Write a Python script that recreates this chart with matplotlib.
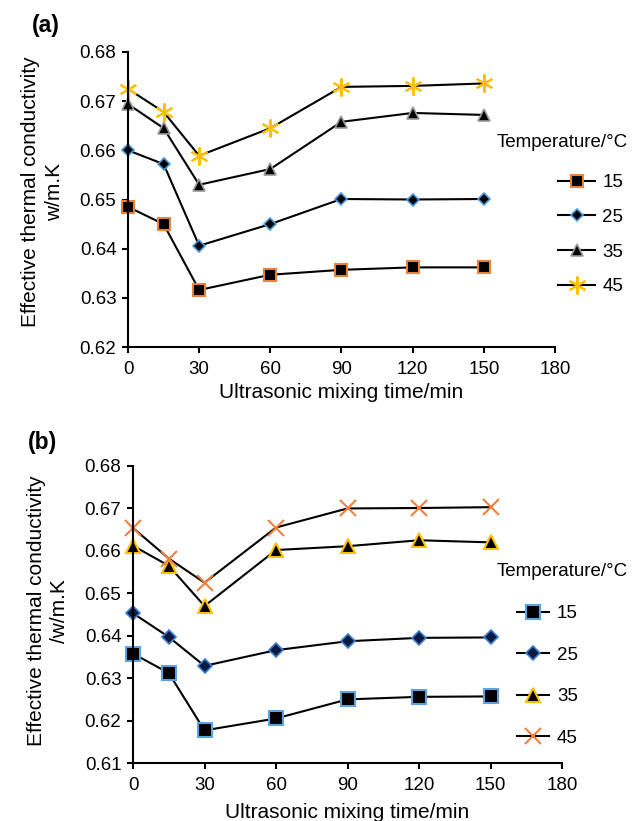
import matplotlib
matplotlib.use("Agg")
import matplotlib.pyplot as plt
from matplotlib.lines import Line2D

plt.rcParams["font.family"] = ["Liberation Sans", "DejaVu Sans"]

# mixing time (min)
time_min = [0, 15, 30, 60, 90, 120, 150]
temps = ["15", "25", "35", "45"]

# (a) effective thermal conductivity, w/m.K
a_15 = [0.6485, 0.6450, 0.6316, 0.6347, 0.6357, 0.6362, 0.6362]
a_25 = [0.6600, 0.6572, 0.6406, 0.6450, 0.6501, 0.6500, 0.6501]
a_35 = [0.6694, 0.6645, 0.6530, 0.6562, 0.6658, 0.6676, 0.6672]
a_45 = [0.6725, 0.6678, 0.6589, 0.6645, 0.6729, 0.6731, 0.6736]

# (b) effective thermal conductivity, w/m.K
b_15 = [0.6358, 0.6312, 0.6177, 0.6205, 0.6250, 0.6256, 0.6257]
b_25 = [0.6453, 0.6397, 0.6329, 0.6366, 0.6387, 0.6395, 0.6396]
b_35 = [0.6612, 0.6565, 0.6470, 0.6602, 0.6611, 0.6625, 0.6620]
b_45 = [0.6654, 0.6582, 0.6525, 0.6655, 0.6700, 0.6701, 0.6703]

font_size = 13.5
label_size = 15
line_width = 1.5
asterisk = (6, 2, 0)

styles_a = [
    dict(marker="s", markersize=9, markerfacecolor="black", markeredgecolor="#E8823A", markeredgewidth=1.5),
    dict(marker="D", markersize=6.5, markerfacecolor="black", markeredgecolor="#4A9BE0", markeredgewidth=1.2),
    dict(marker="^", markersize=9, markerfacecolor="black", markeredgecolor="#9A9A9A", markeredgewidth=1.2),
    dict(marker=asterisk, markersize=13, markerfacecolor="#FFC000", markeredgecolor="#FFC000", markeredgewidth=1.5),
]
styles_b = [
    dict(marker="s", markersize=9.5, markerfacecolor="black", markeredgecolor="#5BA3E0", markeredgewidth=1.5),
    dict(marker="D", markersize=7.5, markerfacecolor="#0D1A40", markeredgecolor="#3A7FD0", markeredgewidth=1.2),
    dict(marker="^", markersize=10.5, markerfacecolor="black", markeredgecolor="#FFC000", markeredgewidth=1.5),
    dict(marker="x", markersize=11, markerfacecolor="#F08040", markeredgecolor="#F08040", markeredgewidth=1.5),
]

fig = plt.figure(figsize=(6.41, 8.21), dpi=100)
ax_a = fig.add_axes([0.1997, 0.5773, 0.6661, 0.3594])
ax_b = fig.add_axes([0.2075, 0.0706, 0.6693, 0.3618])


def draw_panel(ax, series, styles, ylim, yticks, ylabel, xpad, ylab_pos):
    for vals, st, t in zip(series, styles, temps):
        ax.plot(time_min, vals, color="black", linewidth=line_width, label=t, **st)
    ax.set_xlim(0, 180)
    ax.set_ylim(*ylim)
    ax.set_xticks([0, 30, 60, 90, 120, 150, 180])
    ax.set_yticks(yticks)
    ax.set_yticklabels([f"{v:.2f}" for v in yticks])
    for s in ["top", "right"]:
        ax.spines[s].set_visible(False)
    for s in ["left", "bottom"]:
        ax.spines[s].set_linewidth(1.5)
    ax.tick_params(axis="both", direction="out", length=4.3, width=1.5, pad=4, labelsize=font_size)
    ax.tick_params(axis="x", pad=5.5)
    ax.set_xlabel("Ultrasonic mixing time/min", fontsize=label_size, labelpad=xpad)
    ax.set_ylabel(ylabel, fontsize=label_size, multialignment="center", linespacing=1.3)
    ax.yaxis.set_label_coords(*ylab_pos)
    for line in ax.get_lines():
        line.set_clip_on(False)


draw_panel(ax_a, [a_15, a_25, a_35, a_45], styles_a, (0.62, 0.68),
           [0.62, 0.63, 0.64, 0.65, 0.66, 0.67, 0.68],
           "Effective thermal conductivity\nw/m.K", 4, (-0.150, 0.525))
draw_panel(ax_b, [b_15, b_25, b_35, b_45], styles_b, (0.61, 0.68),
           [0.61, 0.62, 0.63, 0.64, 0.65, 0.66, 0.67, 0.68],
           "Effective thermal conductivity\n/w/m.K", 7, (-0.149, 0.512))

# legends sit right of the plotting area, title drawn separately
h_a = [Line2D([], [], color="black", linewidth=line_width, **st) for st in styles_a]
h_b = [Line2D([], [], color="black", linewidth=line_width, **st) for st in styles_b]
ax_a.legend(h_a, temps, loc="upper left", bbox_to_anchor=(0.8705, 0.788), bbox_transform=fig.transFigure,
            frameon=False, fontsize=font_size, labelspacing=0.94, handlelength=2.0,
            handletextpad=0.37, borderpad=0, borderaxespad=0)
ax_b.legend(h_b, temps, loc="upper left", bbox_to_anchor=(0.8066, 0.2631), bbox_transform=fig.transFigure,
            frameon=False, fontsize=font_size, labelspacing=1.30, handlelength=1.7,
            handletextpad=0.43, borderpad=0, borderaxespad=0)
fig.text(0.775, 0.827, "Temperature/\u00b0C", fontsize=font_size, va="center")
fig.text(0.775, 0.3033, "Temperature/\u00b0C", fontsize=font_size, va="center")

fig.text(0.050, 0.9695, "(a)", fontsize=16.5, fontweight="bold", va="center")
fig.text(0.044, 0.4605, "(b)", fontsize=16.5, fontweight="bold", va="center")

fig.savefig("out.png", dpi=100)
